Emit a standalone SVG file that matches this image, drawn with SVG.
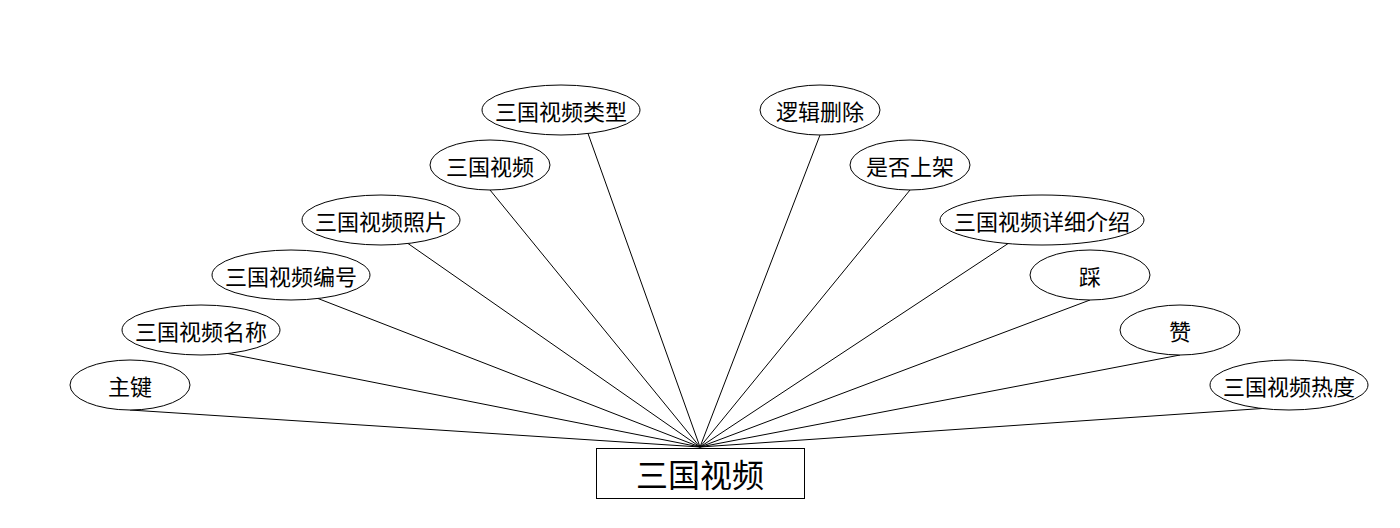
<svg xmlns="http://www.w3.org/2000/svg" width="1400" height="528" viewBox="0 0 1400 528">
<style>
.e{fill:#fff;stroke:#000;stroke-width:1}
.t{font-family:"Noto Sans CJK SC","Microsoft YaHei",sans-serif;font-size:22px;fill:#000;text-anchor:middle;dominant-baseline:central}
.m{font-size:32px}
#connectors line{stroke:#000;stroke-width:1}
</style>
<rect width="1400" height="528" fill="#fff"/>
<g id="connectors">
<line x1="130" y1="410" x2="700" y2="447"/>
<line x1="228" y1="353.5" x2="700" y2="447"/>
<line x1="318" y1="298.5" x2="700" y2="447"/>
<line x1="408" y1="243.5" x2="700" y2="447"/>
<line x1="490" y1="190" x2="700" y2="447"/>
<line x1="588" y1="133.5" x2="700" y2="447"/>
<line x1="820" y1="135" x2="700" y2="447"/>
<line x1="910" y1="190" x2="700" y2="447"/>
<line x1="1008" y1="243.6" x2="700" y2="447"/>
<line x1="1090" y1="300" x2="700" y2="447"/>
<line x1="1180" y1="355" x2="700" y2="447"/>
<line x1="1262" y1="408.5" x2="700" y2="447"/>
</g>
<g id="entity"><rect x="596.5" y="448.5" width="208" height="50" fill="#fff" stroke="#000"/><text class="t m" x="700" y="473">三国视频</text></g>
<g id="a1"><ellipse class="e" cx="130" cy="385" rx="60" ry="25"/><text class="t" x="130" y="385">主键</text></g>
<g id="a2"><ellipse class="e" cx="201" cy="330" rx="79" ry="25"/><text class="t" x="201" y="330">三国视频名称</text></g>
<g id="a3"><ellipse class="e" cx="291" cy="275" rx="79" ry="25"/><text class="t" x="291" y="275">三国视频编号</text></g>
<g id="a4"><ellipse class="e" cx="381" cy="220" rx="79" ry="25"/><text class="t" x="381" y="220">三国视频照片</text></g>
<g id="a5"><ellipse class="e" cx="490" cy="165" rx="60" ry="25"/><text class="t" x="490" y="165">三国视频</text></g>
<g id="a6"><ellipse class="e" cx="561" cy="110" rx="79" ry="25"/><text class="t" x="561" y="110">三国视频类型</text></g>
<g id="a7"><ellipse class="e" cx="820" cy="110" rx="60" ry="25"/><text class="t" x="820" y="110">逻辑删除</text></g>
<g id="a8"><ellipse class="e" cx="910" cy="165" rx="60" ry="25"/><text class="t" x="910" y="165">是否上架</text></g>
<g id="a9"><ellipse class="e" cx="1042" cy="220" rx="102" ry="25"/><text class="t" x="1042" y="220">三国视频详细介绍</text></g>
<g id="a10"><ellipse class="e" cx="1090" cy="275" rx="60" ry="25"/><text class="t" x="1090" y="275">踩</text></g>
<g id="a11"><ellipse class="e" cx="1180" cy="330" rx="60" ry="25"/><text class="t" x="1180" y="330">赞</text></g>
<g id="a12"><ellipse class="e" cx="1289" cy="385" rx="79" ry="25"/><text class="t" x="1289" y="385">三国视频热度</text></g>
</svg>
